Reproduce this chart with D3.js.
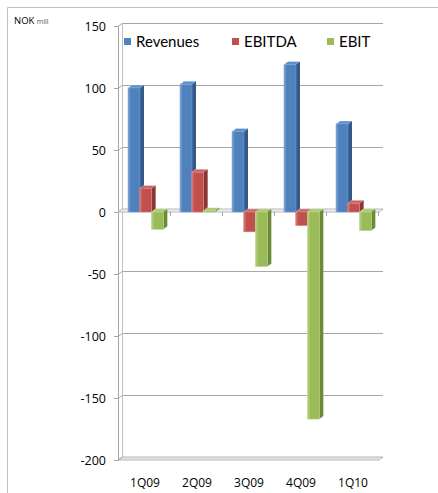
<!DOCTYPE html>
<html>
<head>
<meta charset="utf-8">
<script src="https://cdn.jsdelivr.net/npm/d3@7"></script>
<style>
  body { margin: 0; background: #fff; }
  svg { display: block; }
</style>
</head>
<body>
<div id="chart"></div>
<script>
// chart values
const categories = ["1Q09", "2Q09", "3Q09", "4Q09", "1Q10"];
const seriesNames = ["Revenues", "EBITDA", "EBIT"];
const revenues = [100, 103, 65, 119, 71];
const ebitda = [19, 32, -16, -11, 7];
const ebit = [-14, 1, -44, -167, -15];
const yTicks = [-200, -150, -100, -50, 0, 50, 100, 150];

const seriesValues = [revenues, ebitda, ebit];
const colors = {
    Revenues: {front: "#4f81bd", light: "#7ba3d6", side: "#34598a", top: "#5d8fcc"},
    EBITDA: {front: "#c0504d", light: "#d9807d", side: "#8b3634", top: "#cc6461"},
    EBIT: {front: "#9bbb59", light: "#bcd68a", side: "#6c8a37", top: "#aac96b"}
};

const width = 438, height = 493;
const depthX = 4, depthY = 3;

const svg = d3.select("#chart").append("svg")
    .attr("width", width)
    .attr("height", height);

// outer frame (only left and top edges visible)
svg.append("path")
    .attr("d", `M7.5,${height} L7.5,7.5 L${width},7.5`)
    .attr("fill", "none")
    .attr("stroke", "#bfbfbf")
    .attr("stroke-width", 1);

// unit label
let unit = svg.append("text")
    .attr("x", 14)
    .attr("y", 24)
    .style("font-family", "'Open Sans', sans-serif")
    .style("font-size", "9.5px")
    .style("fill", "#000");
unit.append("tspan").text("NOK ");
unit.append("tspan").style("font-size", "7px").style("fill", "#555").text("mill");

// scales
const plotLeft = 118, plotRight = 378;
const y = d3.scaleLinear().domain([-200, 150]).range([460, 26]);
const x0 = d3.scaleBand().domain(categories).range([plotLeft, plotRight]);
const x1 = d3.scaleBand().domain(seriesNames).range([10, 45]);
const barW = 12;

// gradients for bar fronts
const defs = svg.append("defs");
seriesNames.forEach(s => {
    let g = defs.append("linearGradient")
        .attr("id", "grad-" + s)
        .attr("x1", "0%").attr("x2", "100%")
        .attr("y1", "0%").attr("y2", "0%");
    g.append("stop").attr("offset", "0%").attr("stop-color", colors[s].light);
    g.append("stop").attr("offset", "25%").attr("stop-color", colors[s].front);
    g.append("stop").attr("offset", "100%").attr("stop-color", colors[s].front);
});

// back wall gridlines
svg.append("g").selectAll("line")
    .data(yTicks.filter(d => d !== -200))
    .join("line")
    .attr("x1", plotLeft + depthX)
    .attr("x2", plotRight + 5)
    .attr("y1", d => y(d) - depthY + 0.5)
    .attr("y2", d => y(d) - depthY + 0.5)
    .attr("stroke", "#a6a6a6")
    .attr("stroke-width", 1);

// back wall left edge
svg.append("line")
    .attr("x1", plotLeft + depthX + 0.5).attr("x2", plotLeft + depthX + 0.5)
    .attr("y1", y(150) - depthY).attr("y2", y(-200) - depthY)
    .attr("stroke", "#bfbfbf");

// floor
svg.append("path")
    .attr("d", `M${plotLeft},${y(-200)} L${plotLeft + depthX},${y(-200) - depthY} L${plotRight + 5},${y(-200) - depthY} L${plotRight + 1},${y(-200)} Z`)
    .attr("fill", "#e6e6e6")
    .attr("stroke", "#a6a6a6")
    .attr("stroke-width", 0.8);

// y axis
svg.append("line")
    .attr("x1", plotLeft + 0.5).attr("x2", plotLeft + 0.5)
    .attr("y1", y(150)).attr("y2", y(-200))
    .attr("stroke", "#a6a6a6");

let yTickG = svg.append("g").selectAll("g")
    .data(yTicks)
    .join("g");
yTickG.append("line")
    .attr("x1", plotLeft - 4).attr("x2", plotLeft)
    .attr("y1", d => y(d) + 0.5).attr("y2", d => y(d) + 0.5)
    .attr("stroke", "#a6a6a6");
yTickG.append("line")
    .attr("x1", plotLeft).attr("x2", plotLeft + depthX)
    .attr("y1", d => y(d) + 0.5).attr("y2", d => y(d) - depthY + 0.5)
    .attr("stroke", "#a6a6a6");
yTickG.append("text")
    .attr("x", 106)
    .attr("y", d => y(d) + 4.5)
    .attr("text-anchor", "end")
    .style("font-family", "'Open Sans', sans-serif")
    .style("font-size", "12.5px")
    .style("fill", "#000")
    .text(d => d);

// zero line (category axis)
svg.append("path")
    .attr("d", `M${plotLeft},${y(0)} L${plotLeft + depthX},${y(0) - depthY} L${plotRight + 5},${y(0) - depthY} L${plotRight + 1},${y(0)} Z`)
    .attr("fill", "#f0f0f0")
    .attr("stroke", "#a6a6a6")
    .attr("stroke-width", 0.8);

svg.append("g").selectAll("line")
    .data(categories)
    .join("line")
    .attr("x1", d => x0(d) + x0.bandwidth() + 0.5)
    .attr("x2", d => x0(d) + x0.bandwidth() + 0.5)
    .attr("y1", y(0))
    .attr("y2", y(0) + 4)
    .attr("stroke", "#a6a6a6");

// bars
const barData = [];
categories.forEach((c, i) => {
    seriesNames.forEach((s, j) => {
        barData.push({cat: c, series: s, value: seriesValues[j][i]});
    });
});

let bars = svg.append("g").selectAll("g")
    .data(barData)
    .join("g");

bars.each(function (d) {
    let g = d3.select(this);
    let bx = x0(d.cat) + x1(d.series);
    let top = y(Math.max(0, d.value));
    let bottom = y(Math.min(0, d.value));
    let c = colors[d.series];

    // top face
    g.append("path")
        .attr("d", `M${bx},${top} L${bx + depthX},${top - depthY} L${bx + barW + depthX},${top - depthY} L${bx + barW},${top} Z`)
        .attr("fill", c.top)
        .attr("stroke", "#fff")
        .attr("stroke-width", 0.3);
    // side face
    g.append("path")
        .attr("d", `M${bx + barW},${top} L${bx + barW + depthX},${top - depthY} L${bx + barW + depthX},${bottom - depthY} L${bx + barW},${bottom} Z`)
        .attr("fill", c.side);
    // front face
    g.append("rect")
        .attr("x", bx)
        .attr("y", top)
        .attr("width", barW)
        .attr("height", Math.max(1, bottom - top))
        .attr("fill", `url(#grad-${d.series})`)
        .attr("stroke", c.light)
        .attr("stroke-width", 0.5);
});

// category labels
svg.append("g").selectAll("text")
    .data(categories)
    .join("text")
    .attr("x", d => x0(d) + x0.bandwidth() / 2 + 1)
    .attr("y", 487)
    .attr("text-anchor", "middle")
    .style("font-family", "'Open Sans', sans-serif")
    .style("font-size", "12px")
    .style("fill", "#000")
    .text(d => d);

// legend
const legendX = [124, 232, 327];
let legend = svg.append("g").selectAll("g")
    .data(seriesNames)
    .join("g")
    .attr("transform", (d, i) => `translate(${legendX[i]}, 38)`);
legend.append("rect")
    .attr("width", 7)
    .attr("height", 7)
    .attr("fill", d => colors[d].front);
legend.append("text")
    .attr("x", 12)
    .attr("y", 9)
    .style("font-family", "Lato, sans-serif")
    .style("font-size", "15px")
    .style("fill", "#000")
    .text(d => d);
</script>
</body>
</html>
